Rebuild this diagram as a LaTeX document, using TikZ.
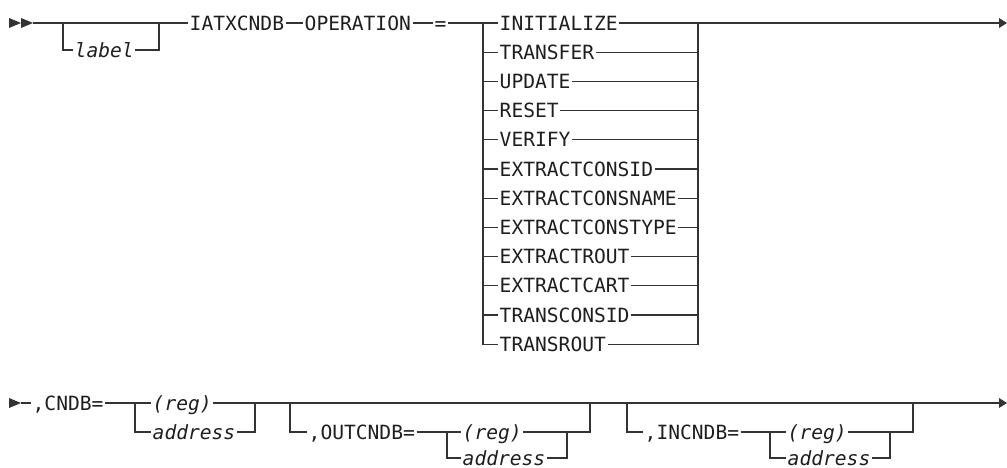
\documentclass[tikz,border=0pt]{standalone}
\usepackage{fontspec}
\setmainfont{DejaVu Sans Mono}
\definecolor{lc}{HTML}{333333}
\definecolor{tc}{HTML}{1E1E1E}
\begin{document}
\begin{tikzpicture}[x=1pt,y=-1pt,
  kw/.style={anchor=west, inner xsep=1.5pt, inner ysep=0pt, text height=14.3pt, text depth=0pt,
    font=\fontsize{19.6pt}{20pt}\selectfont, text=tc},
  var/.style={kw, font=\fontsize{19.6pt}{20pt}\selectfont\itshape},
  rail/.style={draw=lc, line width=1.25pt},
  tip/.style={fill=lc}]
\useasboundingbox (0,0) rectangle (1007,468);

% ---------- first line ----------
\fill[tip] (9,18) -- (21,23) -- (9,28) -- cycle;
\fill[tip] (21,18) -- (33,23) -- (21,28) -- cycle;
\coordinate (s0) at (33,23);
\coordinate (b1) at (63,23);
\coordinate (b2) at (159,23);
\node[var] (label) at (73,50) {label};
\node[kw] (iatx) at (188,23) {IATXCNDB};
\node[kw] (op) at (303,23) {OPERATION};
\node[kw] (eq) at (433,23) {=};
\coordinate (c1) at (483,23);
\coordinate (c2) at (698,23);
\coordinate (t1) at (1000,23);
\foreach \t [count=\i from 0] in {INITIALIZE,TRANSFER,UPDATE,RESET,VERIFY,EXTRACTCONSID,EXTRACTCONSNAME,EXTRACTCONSTYPE,EXTRACTROUT,EXTRACTCART,TRANSCONSID,TRANSROUT}
  \node[kw] (o\i) at (498,{23+29.2*\i}) {\t};

\draw[rail] (s0) -- (iatx.west);
\draw[rail] (b1) |- (label.west);
\draw[rail] (label.east) -| (b2);
\draw[rail] (iatx.east) -- (op.west);
\draw[rail] (op.east) -- (eq.west);
\draw[rail] (eq.east) -- (o0.west);
\draw[rail] (o0.east) -- (t1);
\draw[rail] (c1) |- (o11.west);
\draw[rail] (c2) |- (o11.east);
\foreach \i in {1,...,10} {
  \draw[rail] (o\i.west -| c1) -- (o\i.west);
  \draw[rail] (o\i.east) -- (o\i.east -| c2);
}
\fill[tip] (999,18) -- (1007,23) -- (999,28) -- cycle;

% ---------- second line ----------
\fill[tip] (9,398) -- (21,403) -- (9,408) -- cycle;
\coordinate (s1) at (21,403);
\node[kw] (cndb) at (31,403) {,CNDB=};
\coordinate (d1) at (135,403);
\node[var] (reg1) at (151,403) {(reg)};
\node[var] (adr1) at (151,432) {address};
\coordinate (d2) at (255,403);

\coordinate (e1) at (290,403);
\node[kw] (out) at (307,432) {,OUTCNDB=};
\coordinate (f1) at (447,432);
\node[var] (reg2) at (461,432) {(reg)};
\node[var] (adr2) at (461,458) {address};
\coordinate (f2) at (567,432);
\coordinate (e2) at (590,403);

\coordinate (g1) at (627,403);
\node[kw] (in) at (643,432) {,INCNDB=};
\coordinate (h1) at (770,432);
\node[var] (reg3) at (786,432) {(reg)};
\node[var] (adr3) at (786,458) {address};
\coordinate (h2) at (890,432);
\coordinate (g2) at (913,403);
\coordinate (t2) at (1000,403);

\draw[rail] (s1) -- (cndb.west);
\draw[rail] (cndb.east) -- (reg1.west);
\draw[rail] (reg1.east) -- (t2);
\draw[rail] (d1) |- (adr1.west);
\draw[rail] (adr1.east) -| (d2);

\draw[rail] (e1) |- (out.west);
\draw[rail] (out.east) -- (reg2.west);
\draw[rail] (f1) |- (adr2.west);
\draw[rail] (adr2.east) -| (f2);
\draw[rail] (reg2.east) -| (e2);

\draw[rail] (g1) |- (in.west);
\draw[rail] (in.east) -- (reg3.west);
\draw[rail] (h1) |- (adr3.west);
\draw[rail] (adr3.east) -| (h2);
\draw[rail] (reg3.east) -| (g2);
\fill[tip] (999,398) -- (1007,403) -- (999,408) -- cycle;
\end{tikzpicture}
\end{document}
